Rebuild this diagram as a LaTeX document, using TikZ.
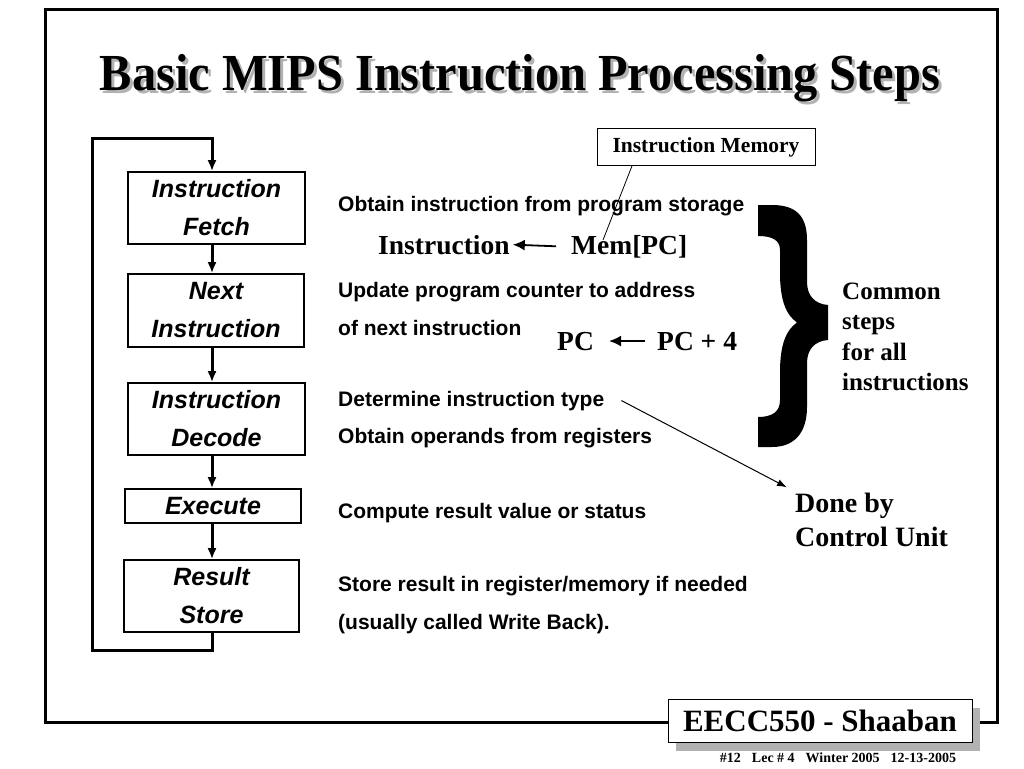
\documentclass[tikz,border=0pt]{standalone}
\usepackage{fontspec}
\setmainfont{Liberation Serif}
\newfontfamily\arialfont{Liberation Sans}
\usetikzlibrary{arrows.meta,positioning}

\tikzset{
  stepbox/.style={draw, line width=1.6pt, inner sep=0pt, align=center,
    font=\arialfont\bfseries\itshape\fontsize{25}{38}\selectfont},
  desc/.style={anchor=base west, inner sep=0pt,
    font=\arialfont\bfseries\fontsize{21}{22}\selectfont},
  serifbig/.style={anchor=base west, inner sep=0pt, align=left},
  rtl/.style={serifbig, font=\bfseries\fontsize{27.5}{28}\selectfont},
  flow/.style={line width=3pt, -{Latex[length=11pt,width=9pt]}},
  assign/.style={line width=1.8pt, -{Latex[length=12pt,width=11pt]}},
}

\begin{document}
\begin{tikzpicture}[x=1pt, y=-1pt]
  \useasboundingbox (0,0) rectangle (1024,768);
  % frame
  \draw[line width=3pt] (45,10) rectangle (997,722);

  % title with shadow
  \node[anchor=base, inner sep=0pt, text=gray!60] (titleshadow) at (523,93)
    {\scalebox{0.93}[1]{\bfseries\fontsize{52}{52}\selectfont Basic MIPS Instruction Processing Steps}};
  \node[anchor=base, inner sep=0pt] (title) at (520,90)
    {\scalebox{0.93}[1]{\bfseries\fontsize{52}{52}\selectfont Basic MIPS Instruction Processing Steps}};

  % processing steps
  \coordinate (ax) at (212,0);
  \node[stepbox, minimum width=177pt, minimum height=72pt] (fetch) at (216.5,208) {Instruction\\Fetch};
  \node[stepbox, minimum width=176pt, minimum height=73pt] (next) at (216,310.5) {Next\\Instruction};
  \node[stepbox, minimum width=177pt, minimum height=72pt] (decode) at (216.5,419) {Instruction\\Decode};
  \node[stepbox, minimum width=176pt, minimum height=34pt] (exec) at (213,506) {Execute};
  \node[stepbox, minimum width=175pt, minimum height=72pt] (store) at (211.5,596) {Result\\Store};

  \draw[flow] (fetch.south -| ax) -- (next.north -| ax);
  \draw[flow] (next.south -| ax) -- (decode.north -| ax);
  \draw[flow] (decode.south -| ax) -- (exec.north -| ax);
  \draw[flow] (exec.south -| ax) -- (store.north -| ax);

  % loop back
  \coordinate (loopbl) at (92,650);
  \coordinate (looptl) at (92,138);
  \draw[flow] (store.south -| ax) |- (loopbl) -- (looptl) -- (looptl -| ax) -- (fetch.north -| ax);

  % descriptions
  \node[desc] (d1) at (338,211) {Obtain instruction from program storage};
  \node[rtl] (instr) at (378,254) {Instruction};
  \node[rtl] (mem) at (571,254) {Mem[PC]};
  \draw[assign] ([xshift=-15pt,yshift=0pt]mem.west) -- ([xshift=3pt,yshift=0pt]instr.east);
  \node[desc] (d2) at (338,297) {Update program counter to address};
  \node[desc] (d3) at (338,335) {of next instruction};
  \node[rtl] (pc) at (557,350) {PC};
  \node[rtl] (pcnext) at (657,350) {PC + 4};
  \draw[assign] ([xshift=-12pt,yshift=0pt]pcnext.west) -- ([xshift=15pt,yshift=0pt]pc.east);
  \node[desc] (dtype) at (338,406) {Determine instruction type};
  \node[desc] (d5) at (338,443) {Obtain operands from registers};
  \node[desc] (d6) at (338,518) {Compute result value or status};
  \node[desc] (d7) at (338,591) {Store result in register/memory if needed};
  \node[desc] (d8) at (338,629) {(usually called Write Back).};

  % instruction memory
  \node[draw, line width=0.8pt, minimum width=218pt, minimum height=37pt,
    font=\bfseries\fontsize{21.5}{22}\selectfont] (imem) at (706,147) {Instruction Memory};
  \coordinate (memtip) at (603,240);
  \draw[line width=0.8pt] ([xshift=-74pt]imem.south) -- (memtip);

  % common steps brace
  \fill (758,205) -- (772,205) .. controls (795,205) and (807,215) .. (807,240)
    -- (807,282) .. controls (807,296) and (815,304) .. (828,305) -- (828,340)
    .. controls (815,341) and (807,349) .. (807,363) -- (807,407)
    .. controls (807,432) and (795,447) .. (772,447) -- (758,447) -- (758,417)
    .. controls (772,417) and (780,412) .. (780,400) -- (780,372)
    .. controls (780,345) and (786,330) .. (797,322.5)
    .. controls (786,315) and (780,300) .. (780,273) -- (780,250)
    .. controls (780,240) and (772,236) .. (758,236) -- cycle;
  \node[serifbig, font=\bfseries\fontsize{25}{30.5}\selectfont] (common) at (842,390.5)
    {Common\\steps\\for all\\instructions};

  % control unit
  \node[serifbig, font=\bfseries\fontsize{28}{34}\selectfont] (done) at (795,546)
    {Done by\\Control Unit};
  \draw[line width=1pt, -{Latex[length=10pt,width=7pt]}] ([xshift=17pt]dtype.east) -- ([xshift=-8pt,yshift=5pt]done.north west);

  % footer
  \node[fill=gray!60, minimum width=304pt, minimum height=43pt] (eeccshadow) at (828,729) {};
  \node[draw, fill=white, line width=1pt, minimum width=304pt, minimum height=43pt,
    font=\bfseries\fontsize{31}{31}\selectfont] (eecc) at (820,721) {EECC550 - Shaaban};
  \node[anchor=base, inner sep=0pt, font=\bfseries\fontsize{14}{14}\selectfont] (foot) at (838,762)
    {\#12\hspace{11pt}Lec \# 4\hspace{11pt}Winter 2005\hspace{11pt}12-13-2005};
\end{tikzpicture}
\end{document}
